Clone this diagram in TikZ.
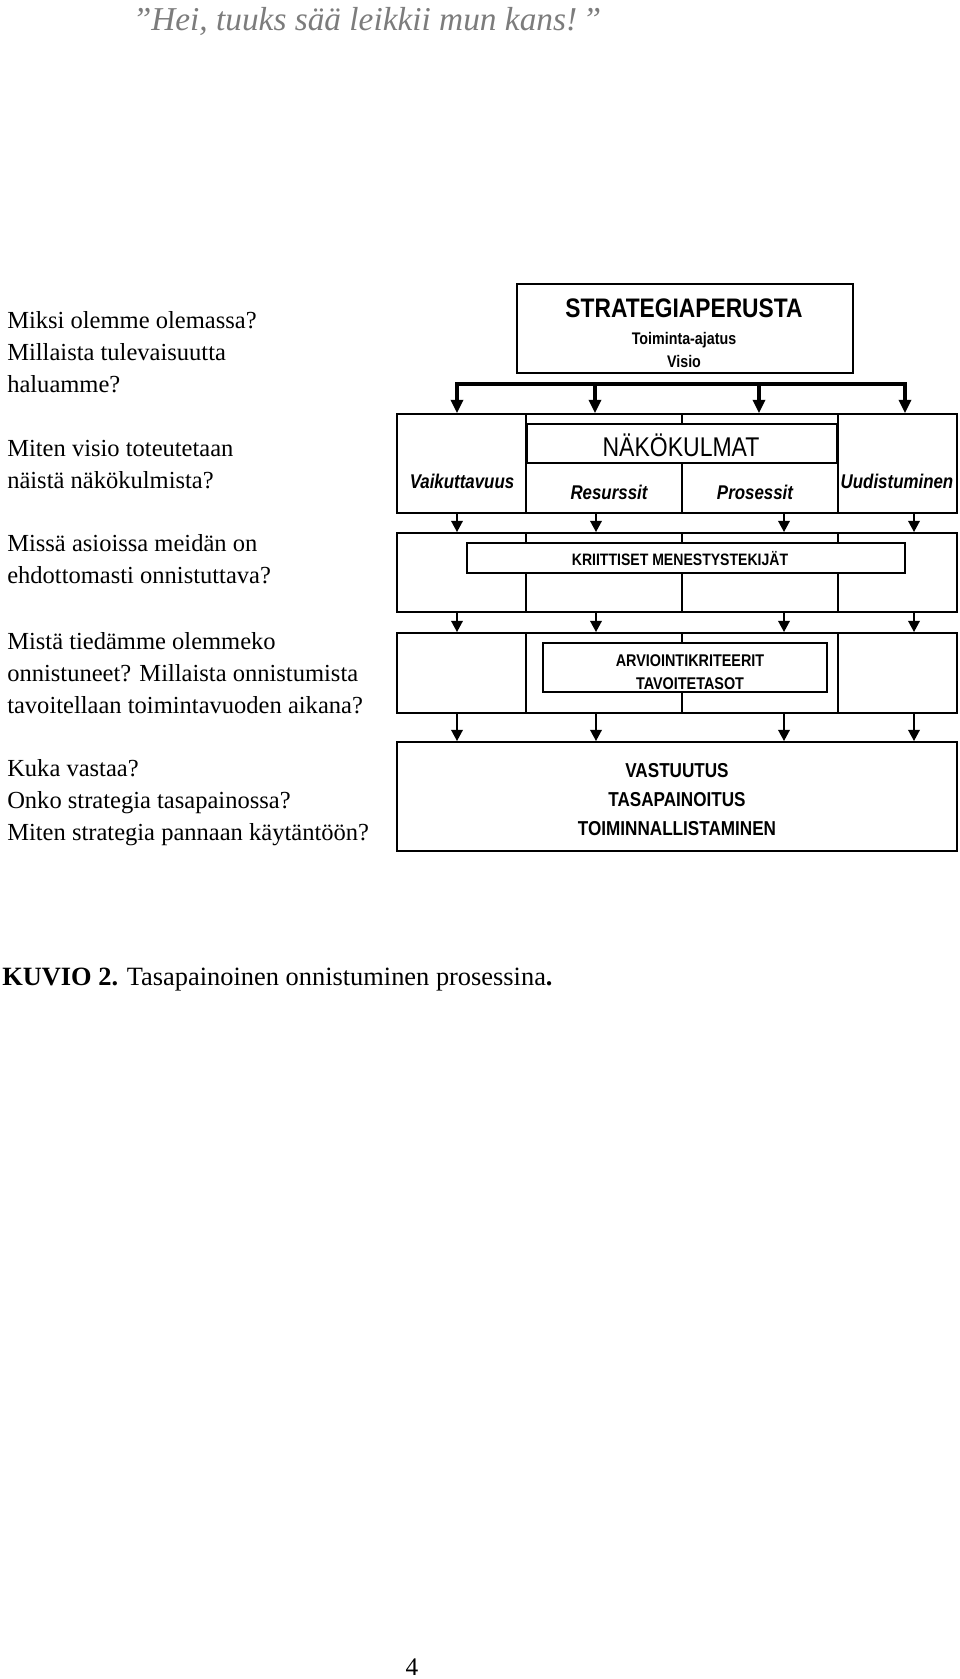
\documentclass[tikz,border=0pt]{standalone}
\usepackage{fontspec}
\setmainfont{Liberation Serif}
\newfontfamily\kuviofont[FakeStretch=0.85]{Liberation Sans}
\usepackage{tikz}
\usetikzlibrary{arrows.meta,calc,fit}
\definecolor{harmaa}{HTML}{7C7C7C}

\begin{document}
\begin{tikzpicture}[x=0.75pt,y=-0.75pt,
  laatikko/.style={draw,line width=1.3pt,inner sep=0pt},
  ohut/.style={line width=1.3pt},
  nuoli/.style={line width=1.9pt,-{Triangle[length=8.5pt,width=8.5pt]}},
  paksu/.style={line width=2.5pt},
  paksunuoli/.style={paksu,-{Triangle[length=10pt,width=9pt]}},
  kulma/.style={anchor=base,font=\kuviofont\bfseries\itshape\fontsize{14.9}{18}\selectfont},
  kysymys/.style={anchor=base west,align=left,inner sep=0pt,font=\fontsize{18.4}{24}\selectfont}]
\useasboundingbox (0,0) rectangle (960,1679);

\node[anchor=base,text=harmaa,font=\itshape\fontsize{25}{30}\selectfont] (motto) at (367,30) {”Hei, tuuks sää leikkii mun kans!\,”};

% kysymykset (ankkuri viimeisen rivin perusviivalla)
\node[kysymys] (kys1) at (7,392) {Miksi olemme olemassa?\\Millaista tulevaisuutta\\haluamme?};
\node[kysymys] (kys2) at (7,488) {Miten visio toteutetaan\\näistä näkökulmista?};
\node[kysymys] (kys3) at (7,583) {Missä asioissa meidän on\\ehdottomasti onnistuttava?};
\node[kysymys] (kys4) at (7,713) {Mistä tiedämme olemmeko\\onnistuneet? Millaista onnistumista\\tavoitellaan toimintavuoden aikana?};
\node[kysymys] (kys5) at (7,840) {Kuka vastaa?\\Onko strategia tasapainossa?\\Miten strategia pannaan käytäntöön?};

% laatikot
\node[laatikko,fit={(517,284) (853,373)}] (perusta) {};
\node[laatikko,fit={(397,414) (957,513)}] (rivi1) {};
\node[laatikko,fit={(527,424) (837,463)}] (nako) {};
\node[laatikko,fit={(397,533) (957,612)}] (rivi2) {};
\node[laatikko,fit={(467,543) (905,573)}] (kriit) {};
\node[laatikko,fit={(397,633) (957,713)}] (rivi3) {};
\node[laatikko,fit={(543,643) (827,692)}] (arvio) {};
\node[laatikko,fit={(397,742) (957,851)}] (rivi4) {};

\draw[ohut] (nako.north west |- rivi1.north) -- (nako.south west |- rivi1.south);
\draw[ohut] (nako.north east |- rivi1.north) -- (nako.south east |- rivi1.south);
\draw[ohut] (nako.north |- rivi1.north) -- (nako.north);
\draw[ohut] (nako.south) -- (nako.south |- rivi1.south);
\foreach \k in {south west,south,south east}{
  \draw[ohut] (nako.\k |- rivi2.north) -- (nako.\k |- kriit.north);
  \draw[ohut] (nako.\k |- kriit.south) -- (nako.\k |- rivi2.south);
}
\draw[ohut] (nako.south west |- rivi3.north) -- (nako.south west |- rivi3.south);
\draw[ohut] (nako.south east |- rivi3.north) -- (nako.south east |- rivi3.south);
\draw[ohut] (nako.south |- rivi3.north) -- (nako.south |- arvio.north);
\draw[ohut] (nako.south |- arvio.south) -- (nako.south |- rivi3.south);

% nuolet
\coordinate (y1) at (457,384);
\coordinate (y2) at (595,384);
\coordinate (y3) at (759,384);
\coordinate (y4) at (905,384);
\draw[paksu,{Triangle[length=10pt,width=9pt]}-{Triangle[length=10pt,width=9pt]}]
  (y1 |- rivi1.north) -- (y1) -- (y4) -- (y4 |- rivi1.north);
\foreach \p in {y2,y3} \draw[paksunuoli] (\p) -- (\p |- rivi1.north);
\coordinate (a1) at (457,0);
\coordinate (a2) at (596,0);
\coordinate (a3) at (784,0);
\coordinate (a4) at (914,0);
\foreach \a in {a1,a2,a3,a4}{
  \draw[nuoli] (\a |- rivi1.south) -- (\a |- rivi2.north);
  \draw[nuoli] (\a |- rivi2.south) -- (\a |- rivi3.north);
  \draw[nuoli] (\a |- rivi3.south) -- (\a |- rivi4.north);
}

% tekstit
\node[anchor=base,font=\kuviofont\bfseries\fontsize{20.1}{24}\selectfont] (perustaotsikko) at (684,317) {STRATEGIAPERUSTA};
\node[anchor=base,align=center,font=\kuviofont\bfseries\fontsize{12.6}{17}\selectfont] (perustateksti) at (684,367) {Toiminta-ajatus\\Visio};
\node[anchor=base,font=\kuviofont\fontsize{20.3}{24}\selectfont] (nakoteksti) at (681,456) {NÄKÖKULMAT};
\node[kulma] (vaik) at (462,488) {Vaikuttavuus};
\node[kulma] (resu) at (609,499) {Resurssit};
\node[kulma] (prose) at (755,499) {Prosessit};
\node[kulma] (uudis) at (897,488) {Uudistuminen};
\node[anchor=base,font=\kuviofont\bfseries\fontsize{12.4}{15}\selectfont] (kriitteksti) at (680,565) {KRIITTISET MENESTYSTEKIJÄT};
\node[anchor=base,align=center,font=\kuviofont\bfseries\fontsize{12.7}{17}\selectfont] (arvioteksti) at (690,689) {ARVIOINTIKRITEERIT\\TAVOITETASOT};
\node[anchor=base,align=center,font=\kuviofont\bfseries\fontsize{15.1}{21.4}\selectfont] (vastuuteksti) at (677,835) {VASTUUTUS\\TASAPAINOITUS\\TOIMINNALLISTAMINEN};

\node[anchor=base west,inner sep=0pt,font=\fontsize{19.8}{24}\selectfont] (kuvateksti) at (2,985) {\textbf{KUVIO 2.} Tasapainoinen onnistuminen prosessina\textbf{.}};
\node[anchor=base,font=\fontsize{19}{24}\selectfont] (sivu) at (412,1675) {4};
\end{tikzpicture}
\end{document}
